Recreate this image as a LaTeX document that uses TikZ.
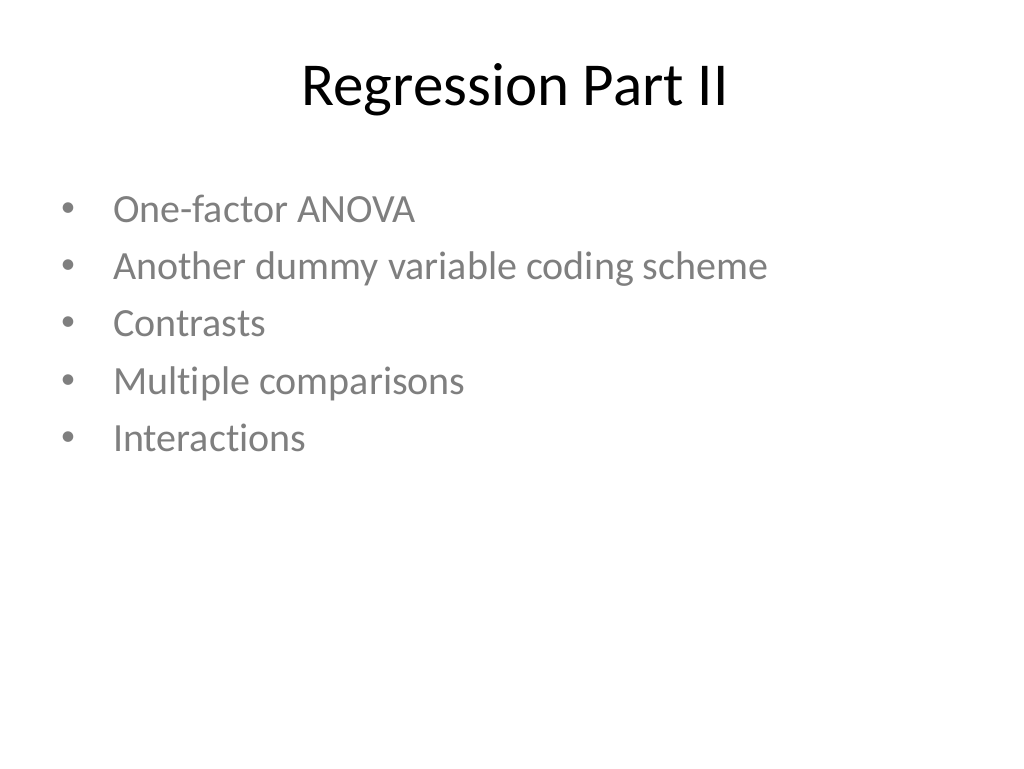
\documentclass[tikz,border=0pt]{standalone}
\usepackage{fontspec}
\setmainfont{Carlito}[Ligatures=NoCommon]
\usetikzlibrary{positioning}
\definecolor{itemgrey}{HTML}{7F7F7F}

\begin{document}
\begin{tikzpicture}[x=1pt,y=-1pt,
    title/.style={inner sep=0pt,anchor=base,font=\fontsize{61}{66}\selectfont},
    item/.style={inner sep=0pt,anchor=base west,text height=26pt,text depth=10pt,
      node distance=21pt,text=itemgrey,font=\fontsize{40}{46}\selectfont},
    dot/.style={inner sep=0pt,anchor=base,text=itemgrey,font=\fontsize{30}{34}\selectfont}]
    \useasboundingbox[fill=white] (0,0) rectangle (1024,768);
    \node (ttl) [title] at (515,105) {Regression Part II};
    \node (anova) [item] at (113,222) {One-factor ANOVA};
    \node (dummy) [item,below=of anova.south west,anchor=north west] {Another dummy variable coding scheme};
    \node (contr) [item,below=of dummy.south west,anchor=north west] {Contrasts};
    \node (multi) [item,below=of contr.south west,anchor=north west] {Multiple comparisons};
    \node (inter) [item,below=of multi.south west,anchor=north west] {Interactions};
    \node (b1) [dot] at ([xshift=-45pt,yshift=6pt]anova.base west) {•};
    \node (b2) [dot] at ([xshift=-45pt,yshift=6pt]dummy.base west) {•};
    \node (b3) [dot] at ([xshift=-45pt,yshift=6pt]contr.base west) {•};
    \node (b4) [dot] at ([xshift=-45pt,yshift=6pt]multi.base west) {•};
    \node (b5) [dot] at ([xshift=-45pt,yshift=6pt]inter.base west) {•};
\end{tikzpicture}
\end{document}
